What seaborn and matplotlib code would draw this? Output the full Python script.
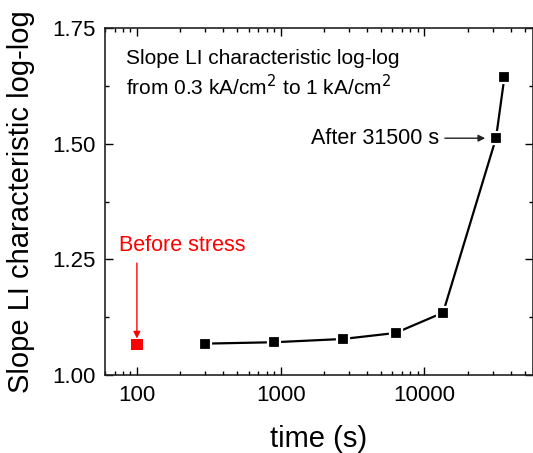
import numpy as np
import pandas as pd
import matplotlib
matplotlib.use("Agg")
import matplotlib.pyplot as plt
import seaborn as sns
from matplotlib.ticker import LogLocator, NullFormatter, MultipleLocator, FixedLocator, FixedFormatter

# Data
stress_time = [300, 900, 2700, 6300, 13500, 31500, 36100]
slope = [1.068, 1.071, 1.078, 1.091, 1.135, 1.512, 1.645]
before_time = [100]
before_slope = [1.066]
xticks = [100, 1000, 10000]
xtick_labels = ["100", "1000", "10000"]
yticks = [1.00, 1.25, 1.50, 1.75]

sns.set_style("ticks")
plt.rcParams["font.family"] = ["Liberation Sans", "DejaVu Sans"]
plt.rcParams["text.color"] = "black"
plt.rcParams["axes.labelcolor"] = "black"
plt.rcParams["xtick.color"] = "black"
plt.rcParams["ytick.color"] = "black"

df = pd.DataFrame({"time": stress_time, "slope": slope})
df_before = pd.DataFrame({"time": before_time, "slope": before_slope})

fig = plt.figure(figsize=(5.33, 4.53), dpi=100)
ax = fig.add_axes([0.197, 0.172, 0.803, 0.766])

sns.lineplot(data=df, x="time", y="slope", ax=ax, color="black", linewidth=1.6,
             marker="s", markersize=9, markerfacecolor="black",
             markeredgecolor="white", markeredgewidth=1.6)
sns.scatterplot(data=df_before, x="time", y="slope", ax=ax, color="#ff0000",
                marker="s", s=70, edgecolor="none", zorder=3)

ax.set_xscale("log")
ax.set_xlim(60, 57000)
ax.set_ylim(1.0, 1.75)
ax.xaxis.set_major_locator(FixedLocator(xticks))
ax.xaxis.set_major_formatter(FixedFormatter(xtick_labels))
ax.xaxis.set_minor_locator(LogLocator(base=10, subs=np.arange(2, 10)))
ax.xaxis.set_minor_formatter(NullFormatter())
ax.set_yticks(yticks)
ax.yaxis.set_minor_locator(MultipleLocator(0.125))
ax.yaxis.set_major_formatter(matplotlib.ticker.FormatStrFormatter("%.2f"))

ax.tick_params(which="both", direction="in", top=True, right=True, colors="black")
ax.tick_params(which="major", length=6, width=1.0, labelsize=16, pad=7)
ax.tick_params(which="minor", length=3, width=1.0)
for sp in ax.spines.values():
    sp.set_linewidth(1.2)
    sp.set_color("#222222")

ax.set_xlabel("time (s)", fontsize=21, labelpad=14)
ax.set_ylabel("Slope LI characteristic log-log", fontsize=21, labelpad=12)

ax.text(0.048, 0.94, "Slope LI characteristic log-log\nfrom 0.3 kA/cm$^2$ to 1 kA/cm$^2$",
        transform=ax.transAxes, fontsize=15, va="top", ha="left", linespacing=1.3)

ax.text(75, 1.281, "Before stress", color="#ff0000", fontsize=15.5,
        ha="left", va="center")
ax.annotate("", xy=(100, 1.079), xytext=(100, 1.242),
            arrowprops=dict(arrowstyle="-|>", color="#ff0000", lw=1.0,
                            mutation_scale=10, shrinkA=0, shrinkB=0))
ax.annotate("After 31500 s", xy=(26500, 1.512), xytext=(12600, 1.512),
            color="black", fontsize=15.5, ha="right", va="center",
            arrowprops=dict(arrowstyle="-|>", color="#222222", lw=1.0,
                            mutation_scale=10, shrinkA=2, shrinkB=0))

fig.savefig("out.png", dpi=100)
